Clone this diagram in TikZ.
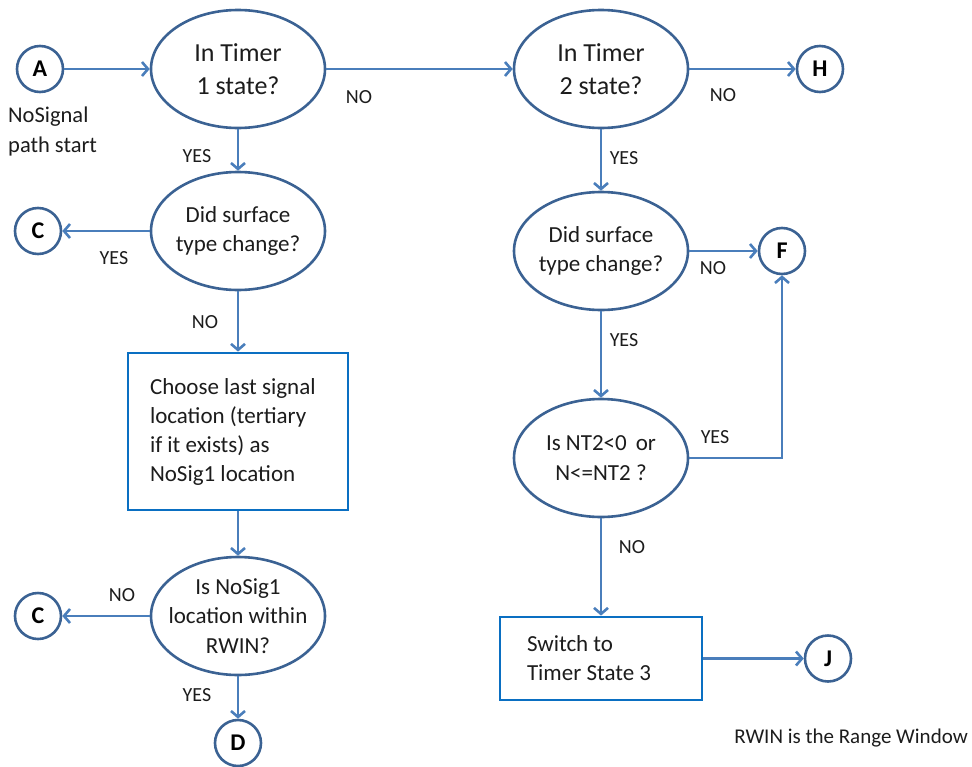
\documentclass[tikz,border=0pt]{standalone}
\usepackage{fontspec}
\setmainfont{Carlito}
\usetikzlibrary{arrows.meta,shapes.geometric}
\definecolor{shapeblue}{HTML}{3B6293}
\definecolor{linkblue}{HTML}{4A7EBB}
\definecolor{boxblue}{HTML}{0A6FC2}
\definecolor{ink}{HTML}{1C1C1C}
\begin{document}
\begin{tikzpicture}[x=1pt,y=-1pt,
  decision/.style={ellipse, draw=shapeblue, line width=2.6pt, minimum width=174pt,
    minimum height=118pt, inner xsep=-16pt, inner ysep=0pt, align=center, text=ink,
    font=\fontsize{23}{29.5}\selectfont},
  bigq/.style={font=\fontsize{26}{33}\selectfont},
  connector/.style={circle, draw=shapeblue, line width=2.6pt, minimum size=46pt,
    inner sep=0pt, text=black, font=\fontsize{24}{24}\selectfont\bfseries},
  process/.style={rectangle, draw=boxblue, line width=2.8pt, align=flush left, text=ink,
    font=\fontsize{23}{29}\selectfont, inner ysep=0pt},
  flow/.style={draw=linkblue, line width=2.6pt, -{Straight Barb[length=6pt,width=14pt]}},
  tag/.style={text=ink, font=\fontsize{20}{20}\selectfont, inner sep=0pt}
]
\useasboundingbox (0,0) rectangle (972,766);

% left column
\node[connector] (A) at (40,69) {A};
\node[anchor=west, align=flush left, text=ink, font=\fontsize{22.5}{30}\selectfont, inner sep=0pt]
  (startnote) at (8,131) {NoSignal\\path start};
\node[decision, bigq] (t1) at (238,69) {In Timer\\1 state?};
\node[decision] (sc1) at (238,231) {Did surface\\type change?};
\node[connector] (C1) at (38,231) {C};
\node[process, text width=176pt, inner xsep=22pt, minimum height=157pt] (pick) at (238,431.5)
  {Choose last signal\\location (tertiary\\if it exists) as\\NoSig1 location};
\node[decision] (rwin) at (238,616) {Is NoSig1\\location within\\RWIN?};
\node[connector] (C2) at (38,616) {C};
\node[connector] (D) at (238,743) {D};

% right column
\node[decision, bigq] (t2) at (601,69) {In Timer\\2 state?};
\node[connector] (H) at (820,69) {H};
\node[decision] (sc2) at (601,251) {Did surface\\type change?};
\node[connector] (F) at (782,251) {F};
\node[decision] (nt) at (601,458) {Is NT2<0\, or\\N<=NT2 ?};
\node[process, text width=148pt, inner xsep=27pt, minimum height=83pt] (ts3) at (601,658.5)
  {Switch to\\Timer State 3};
\node[connector] (J) at (828,658.5) {J};

\node[anchor=base east, text=ink, font=\fontsize{21}{21}\selectfont, inner sep=0pt]
  (legend) at (968,743) {RWIN is the Range Window};

% connectors
\draw[flow] (A) -- (t1);
\draw[flow] (t1) -- (t2);
\draw[flow] (t1) -- (sc1);
\draw[flow] (sc1) -- (C1);
\draw[flow] (sc1) -- (pick);
\draw[flow] (pick) -- (rwin);
\draw[flow] (rwin) -- (C2);
\draw[flow] (rwin) -- (D);
\draw[flow] (t2) -- (H);
\draw[flow] (t2) -- (sc2);
\draw[flow] (sc2) -- (F);
\draw[flow] (sc2) -- (nt);
\draw[flow] (nt.east) -| (F.south);
\draw[flow] (nt) -- (ts3);
\draw[flow] (ts3) -- (J);

% branch labels
\node[tag] (l1) at (359,97) {NO};
\node[tag] (l2) at (197,156) {YES};
\node[tag] (l3) at (114,258) {YES};
\node[tag] (l4) at (205,322) {NO};
\node[tag] (l5) at (122,595) {NO};
\node[tag] (l6) at (197,695) {YES};
\node[tag] (l7) at (723,95) {NO};
\node[tag] (l8) at (624,158) {YES};
\node[tag] (l9) at (713,268) {NO};
\node[tag] (l10) at (624,340) {YES};
\node[tag] (l11) at (715,437) {YES};
\node[tag] (l12) at (632,547) {NO};
\end{tikzpicture}
\end{document}
